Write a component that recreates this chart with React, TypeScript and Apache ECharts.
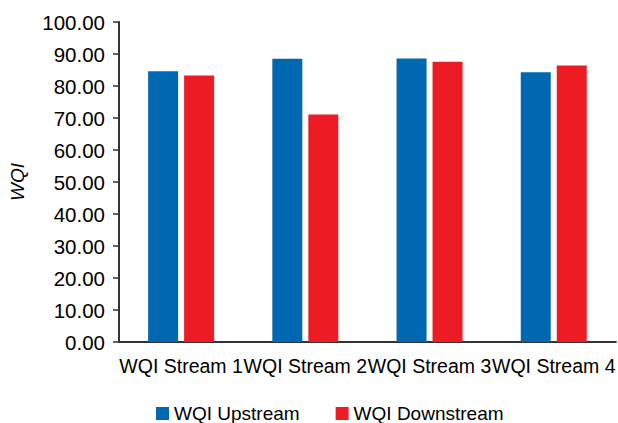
import React, { useEffect, useRef } from "react";
import * as echarts from "echarts";

const categories = ["WQI Stream 1", "WQI Stream 2", "WQI Stream 3", "WQI Stream 4"];
const upstream = [84.6, 88.5, 88.6, 84.3];
const downstream = [83.3, 71.1, 87.6, 86.4];
const seriesNames = ["WQI Upstream", "WQI Downstream"];

export default function App() {
  const ref = useRef<HTMLDivElement>(null);
  useEffect(() => {
    document.body.style.margin = "0";
    const chart = echarts.init(ref.current!, null, { renderer: "svg" });
    const font = "Liberation Sans, Arial, sans-serif";
    chart.setOption({
      animation: false,
      backgroundColor: "#ffffff",
      grid: { left: 117, right: 0, top: 22, bottom: 81, containLabel: false },
      legend: {
        data: seriesNames,
        top: 404,
        left: 156,
        padding: 0,
        itemWidth: 13,
        itemHeight: 13,
        itemGap: 36,
        icon: "rect",
        textStyle: { fontFamily: font, fontSize: 19, color: "#000" },
      },
      xAxis: {
        type: "category",
        data: categories,
        axisLine: { lineStyle: { color: "#333", width: 2 } },
        axisTick: { show: false },
        axisLabel: {
          interval: 0,
          hideOverlap: false,
          fontFamily: font,
          fontSize: 19.5,
          color: "#000",
          margin: 14,
        },
      },
      yAxis: {
        type: "value",
        min: 0,
        max: 100,
        interval: 10,
        name: "WQI",
        nameLocation: "middle",
        nameGap: 92,
        nameRotate: 90,
        nameTextStyle: { fontFamily: font, fontSize: 19, fontStyle: "italic", color: "#000" },
        axisLine: { show: true, lineStyle: { color: "#333", width: 2 } },
        axisTick: { show: true, length: 6, lineStyle: { color: "#333", width: 1.5 } },
        splitLine: { show: false },
        axisLabel: {
          formatter: (v: number) => v.toFixed(2),
          fontFamily: font,
          fontSize: 20.5,
          color: "#000",
          margin: 14,
        },
      },
      series: [
        {
          name: seriesNames[0],
          type: "bar",
          data: upstream,
          barWidth: 30,
          barGap: "20%",
          itemStyle: { color: "#0068B1" },
        },
        {
          name: seriesNames[1],
          type: "bar",
          data: downstream,
          barWidth: 30,
          itemStyle: { color: "#ED1C24" },
        },
      ],
    });
    return () => chart.dispose();
  }, []);
  return (
    <div
      ref={ref}
      style={{ position: "fixed", left: 0, top: 0, width: 618, height: 423 }}
    />
  );
}
